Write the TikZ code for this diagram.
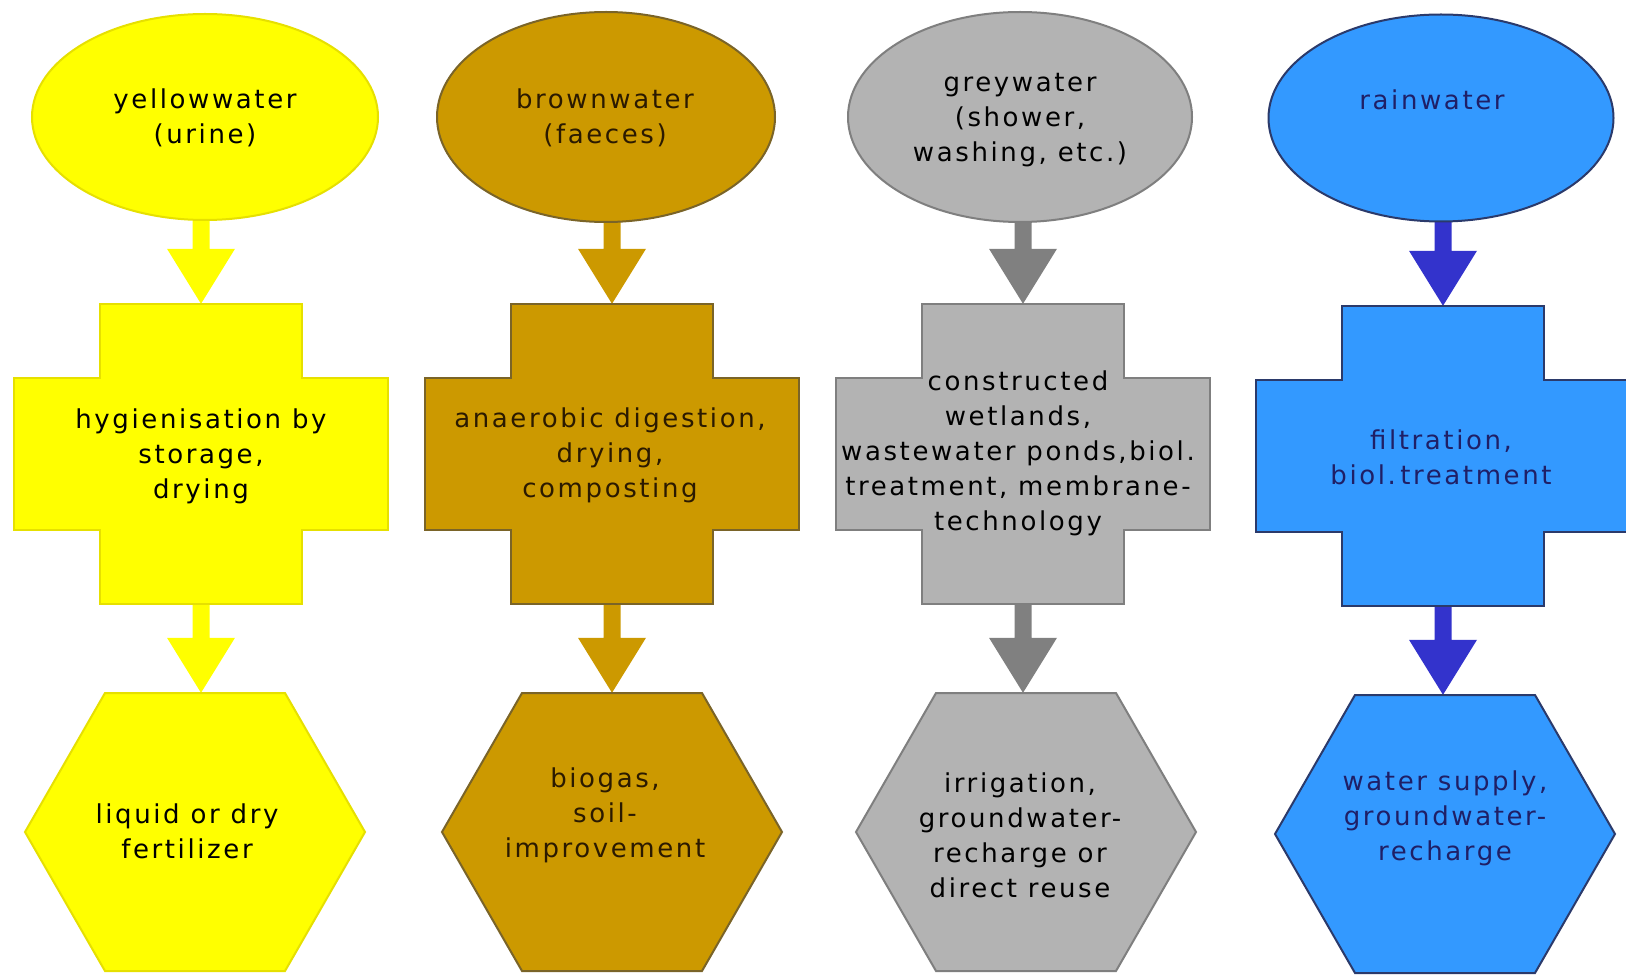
\documentclass[tikz,border=0pt]{standalone}
\usepackage{fontspec}
\newfontfamily\diagfont{DejaVu Sans}[LetterSpace=10]
\usetikzlibrary{shapes.geometric,calc,backgrounds}

% palette of the four water streams
\definecolor{ylwFill}{HTML}{FFFF00}
\definecolor{ylwLine}{HTML}{E6E000}
\definecolor{ylwArrow}{HTML}{FFFF00}
\definecolor{brnFill}{HTML}{CC9900}
\definecolor{brnLine}{HTML}{7A6428}
\definecolor{brnArrow}{HTML}{CC9900}
\definecolor{brnText}{HTML}{2B1A00}
\definecolor{gryFill}{HTML}{B3B3B3}
\definecolor{gryLine}{HTML}{7F7F7F}
\definecolor{gryArrow}{HTML}{808080}
\definecolor{bluFill}{HTML}{3399FF}
\definecolor{bluLine}{HTML}{2B3A6B}
\definecolor{bluArrow}{HTML}{3333CC}
\definecolor{bluText}{HTML}{1F1F66}

\tikzset{
  source/.style={ellipse, inner sep=0pt, line width=2pt},
  slot/.style={rectangle, inner sep=0pt, draw=none},
  crossslot/.style={slot, minimum width=374pt, minimum height=300pt},
  hexslot/.style={slot, minimum width=340pt, minimum height=278pt},
  lbl/.style={font=\diagfont\fontsize{26}{35}\selectfont, align=center,
              inner sep=0pt, text=#1},
  lbl/.default=black,
  ylw/.style={fill=ylwFill, draw=ylwLine, line width=2pt},
  brn/.style={fill=brnFill, draw=brnLine, line width=2pt},
  gry/.style={fill=gryFill, draw=gryLine, line width=2pt},
  blu/.style={fill=bluFill, draw=bluLine, line width=2pt},
}

% cross-shaped treatment box around a slot node
\newcommand\crossbox[2]{%
  \filldraw[#2] let \p0=(#1.center) in
    (\x0-101pt,\y0+150pt) -- (\x0+101pt,\y0+150pt) -- (\x0+101pt,\y0+76pt) --
    (\x0+187pt,\y0+76pt) -- (\x0+187pt,\y0-76pt) -- (\x0+101pt,\y0-76pt) --
    (\x0+101pt,\y0-150pt) -- (\x0-101pt,\y0-150pt) -- (\x0-101pt,\y0-76pt) --
    (\x0-187pt,\y0-76pt) -- (\x0-187pt,\y0+76pt) -- (\x0-101pt,\y0+76pt) -- cycle;}

% hexagonal product box around a slot node
\newcommand\hexbox[2]{%
  \filldraw[#2] let \p0=(#1.center) in
    (\x0-90pt,\y0+139pt) -- (\x0+90pt,\y0+139pt) -- (\x0+170pt,\y0) --
    (\x0+90pt,\y0-139pt) -- (\x0-90pt,\y0-139pt) -- (\x0-170pt,\y0) -- cycle;}

% block arrow from #1 down to #2, centred on the x of #3
\newcommand\flowarrow[4]{%
  \fill[#4] let \p1=(#1), \p2=(#2), \p3=(#3) in
    (\x3-8.5pt,\y1+6pt) -- (\x3+8.5pt,\y1+6pt) -- (\x3+8.5pt,\y2+55pt) --
    (\x3+34pt,\y2+55pt) -- (\x3,\y2) -- (\x3-34pt,\y2+55pt) --
    (\x3-8.5pt,\y2+55pt) -- cycle;}

\begin{document}
\begin{tikzpicture}[x=1pt,y=-1pt]
\useasboundingbox (0,0) rectangle (1626,976);

% sources
\node[source, ylw, minimum width=346pt, minimum height=206pt] (srcY) at (205,117) {};
\node[source, brn, minimum width=338pt, minimum height=210pt] (srcB) at (606,117) {};
\node[source, gry, minimum width=344pt, minimum height=210pt] (srcG) at (1020,117) {};
\node[source, blu, minimum width=345pt, minimum height=207pt] (srcR) at (1441,118) {};

% treatment and product slots
\node[crossslot] (trtY) at (201,454) {};
\node[crossslot] (trtB) at (612,454) {};
\node[crossslot] (trtG) at (1023,454) {};
\node[crossslot] (trtR) at (1443,456) {};

\node[hexslot] (useY) at (195,832) {};
\node[hexslot] (useB) at (612,832) {};
\node[hexslot] (useG) at (1026,832) {};
\node[hexslot] (useR) at (1445,834) {};

\begin{scope}[on background layer]
  \fill[white] (0,0) rectangle (1626,976);
  \flowarrow{srcY.south}{trtY.north}{trtY.north}{ylwArrow}
  \flowarrow{trtY.south}{useY.north}{trtY.south}{ylwArrow}
  \flowarrow{srcB.south}{trtB.north}{trtB.north}{brnArrow}
  \flowarrow{trtB.south}{useB.north}{trtB.south}{brnArrow}
  \flowarrow{srcG.south}{trtG.north}{trtG.north}{gryArrow}
  \flowarrow{trtG.south}{useG.north}{trtG.south}{gryArrow}
  \flowarrow{srcR.south}{trtR.north}{trtR.north}{bluArrow}
  \flowarrow{trtR.south}{useR.north}{trtR.south}{bluArrow}
\end{scope}

\crossbox{trtY}{ylw}
\crossbox{trtB}{brn}
\crossbox{trtG}{gry}
\crossbox{trtR}{blu}

\hexbox{useY}{ylw}
\hexbox{useB}{brn}
\hexbox{useG}{gry}
\hexbox{useR}{blu}

% labels
\node[lbl] (tSrcY) at (205,118) {yellowwater\\(urine)};
\node[lbl=brnText] (tSrcB) at (605,118) {brownwater\\(faeces)};
\node[lbl] (tSrcG) at (1020,120) {greywater\\(shower,\\washing, etc.)};
\node[lbl=bluText] (tSrcR) at (1432,100) {rainwater};

\node[lbl] (tTrtY) at (201,456) {hygienisation by\\storage,\\drying};
\node[lbl=brnText] (tTrtB) at (610,455) {anaerobic digestion,\\drying,\\composting};
\node[lbl] (tTrtG) at (1018,453) {constructed\\wetlands,\\wastewater ponds,biol.\\treatment, membrane-\\technology};
\node[lbl=bluText] (tTrtR) at (1441,457) {filtration,\\biol.\,treatment};

\node[lbl] (tUseY) at (187,831) {liquid or dry\\fertilizer};
\node[lbl=brnText] (tUseB) at (605,815) {biogas,\\soil-\\improvement};
\node[lbl] (tUseG) at (1020,835) {irrigation,\\groundwater-\\recharge or\\direct reuse};
\node[lbl=bluText] (tUseR) at (1445,818) {water supply,\\groundwater-\\recharge};
\end{tikzpicture}
\end{document}
